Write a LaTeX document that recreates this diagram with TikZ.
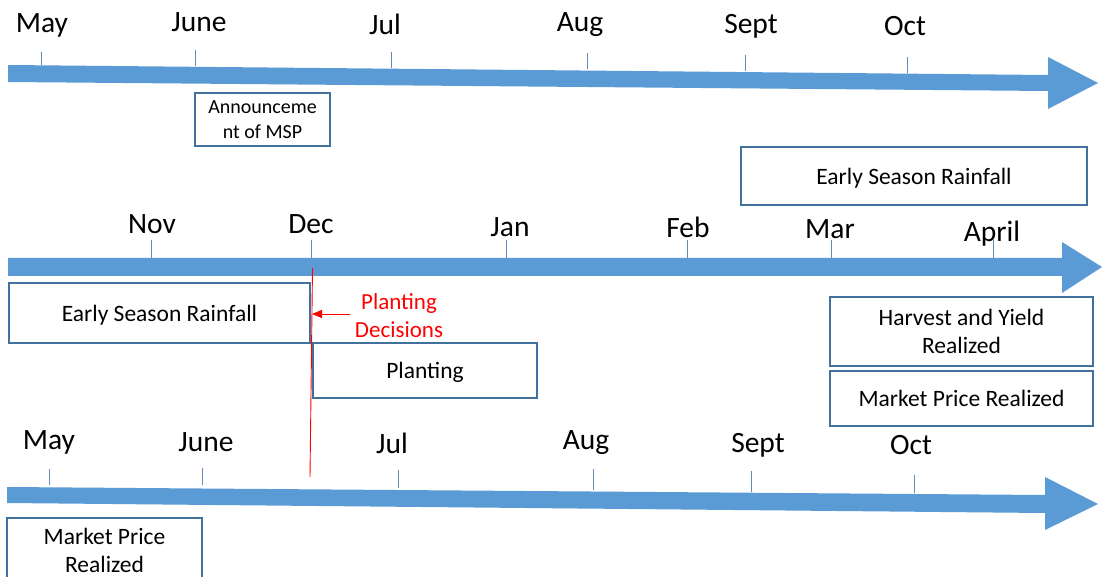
\documentclass[tikz,border=0pt]{standalone}
\usepackage{fontspec}
\setmainfont{Carlito}
\usetikzlibrary{arrows.meta}
\definecolor{arrowblue}{HTML}{5B9BD5}
\definecolor{boxc}{HTML}{41719C}
\definecolor{tickc}{HTML}{5E8DBA}
\definecolor{redc}{HTML}{FF0000}
\tikzset{
  month/.style={anchor=base, inner sep=0pt, font=\fontsize{29.5}{34}\selectfont},
  tickline/.style={draw=tickc, line width=1pt},
  tbox/.style={draw=boxc, line width=1.4pt, fill=white, inner sep=0pt, align=center,
     font=\fontsize{23.5}{28}\selectfont},
  onel/.style={text depth=0pt},
  redlabel/.style={text=redc, align=center, inner sep=0pt, font=\fontsize{23}{28}\selectfont},
}
\begin{document}
\begin{tikzpicture}[x=1pt,y=-1pt]
\clip (0,0) rectangle (1103,577);
\fill[white] (0,0) rectangle (1103,577);
% arrows
\fill[arrowblue] (8,65) -- (1048,75) -- (1048,57) -- (1098,83) -- (1048,109) -- (1048,91) -- (8,82) -- cycle;
\fill[arrowblue] (8,258) -- (1062,258) -- (1062,242) -- (1102,267) -- (1062,293) -- (1062,276) -- (8,276) -- cycle;
\fill[arrowblue] (7,487) -- (1045,495) -- (1045,477) -- (1098,504) -- (1045,530) -- (1045,513) -- (7,503) -- cycle;
% top row
\foreach \name/\lx/\ly/\tx/\ta/\tb in {May/42/33/41/52/65, June/199/32/195/50/66, Jul/385/35/391/52/68, Aug/580/32/587/53/69, Sept/751/34/745/55/71, Oct/905/36/907/57/73}{
  \node[month] (t\name) at (\lx,\ly) {\name};
  \draw[tickline] (\tx,\ta) -- (\tx,\tb);
}
% middle row
\foreach \name/\lx/\ly/\tx in {Nov/152/234/151, Dec/311/234/311, Jan/510/237/506, Feb/688/238/687, Mar/830/239/831, April/992/242/993}{
  \node[month] (m\name) at (\lx,\ly) {\name};
  \draw[tickline] (\tx,240) -- (\tx,258);
}
% bottom row
\foreach \name/\lx/\ly/\tx/\ta/\tb in {May/49/449/49/469/485, June/206/451/202/468/485, Jul/392/453/398/470/488, Aug/586/449/593/469/490, Sept/758/452/751/471/492, Oct/911/454/914/475/493}{
  \node[month] (b\name) at (\lx,\ly) {\name};
  \draw[tickline] (\tx,\ta) -- (\tx,\tb);
}
% boxes
\node[tbox, minimum width=135pt, minimum height=53pt, font=\fontsize{20}{25}\selectfont] (msp) at (262.5,119.5) {Announceme\\nt of MSP};
\node[tbox, onel, minimum width=346pt, minimum height=58pt] (esr1) at (914,176) {Early Season Rainfall};
\node[tbox, onel, minimum width=301pt, minimum height=60pt] (esr2) at (159.5,313) {Early Season Rainfall};
\node[tbox, onel, minimum width=224pt, minimum height=55pt] (plant) at (425,370.5) {Planting};
\node[tbox, minimum width=263pt, minimum height=69pt] (harv) at (961.5,331.5) {Harvest and Yield\\Realized};
\node[tbox, onel, minimum width=263pt, minimum height=55pt] (mpr1) at (961.5,398.5) {Market Price Realized};
\node[tbox, minimum width=195pt, minimum height=64pt] (mpr2) at (104.5,550) {Market Price\\Realized};
% planting decision line
\coordinate (rtop) at (312.5,268);
\coordinate (rbot) at (310,477);
\draw[redc, line width=0.9pt] (rtop) -- (rbot);
\coordinate (rarrs) at (350,314);
\coordinate (rarre) at (312,314);
\draw[redc, line width=0.9pt, -{Triangle[length=10pt,width=8pt]}] (rarrs) -- (rarre);
\node[redlabel] (pd) at (399,316) {Planting\\Decisions};
\end{tikzpicture}
\end{document}
